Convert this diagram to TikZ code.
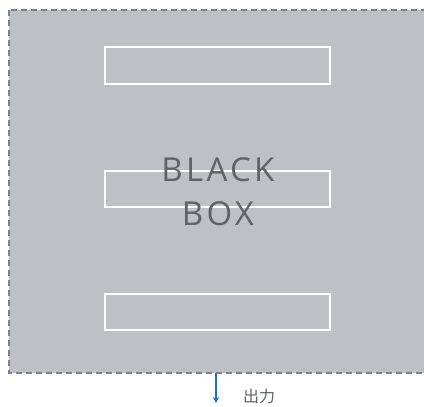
\documentclass[tikz,border=0pt]{standalone}
\usepackage{fontspec}
\usetikzlibrary{arrows.meta}
\setmainfont{Open Sans}
\newfontfamily\cjk{Noto Sans CJK SC}
\definecolor{boxgray}{HTML}{BDC1C5}
\definecolor{dashgray}{HTML}{7D8084}
\definecolor{textgray}{HTML}{5F6368}
\definecolor{outblue}{HTML}{1A73C8}
\begin{document}
\begin{tikzpicture}[x=1pt,y=-1pt]
    % Styles
    \tikzset{blackbox/.style={draw=dashgray,fill=boxgray,dashed,dash pattern=on 6pt off 4pt,line width=1.5pt},
             slot/.style={draw=white,line width=1.3pt},
             outarrow/.style={draw=outblue,line width=1.2pt,-{Stealth[length=6pt,width=6pt]}}}
    \useasboundingbox (0,0) rectangle (424,407);

    % --- Black box ---
    \draw[blackbox] (9,10) rectangle (430,373);
    \coordinate (boxbottom) at (216,373);

    % --- Slots ---
    \draw[slot] (105,47) rectangle (330,84);
    \draw[slot] (105,171) rectangle (330,207);
    \draw[slot] (105,294) rectangle (330,330);

    % --- Title ---
    \node[text=textgray,align=center,font=\fontsize{33}{44}\selectfont\addfontfeatures{LetterSpace=10}] (title) at (218,192) {BLACK\\BOX};

    % --- Output ---
    \coordinate (outend) at (216,403);
    \draw[outarrow] (boxbottom) -- (outend);
    \node[font=\cjk\fontsize{16}{16}\selectfont,text=textgray,anchor=north west,inner sep=0pt] (outlabel) at (243,389) {出力};
\end{tikzpicture}
\end{document}
